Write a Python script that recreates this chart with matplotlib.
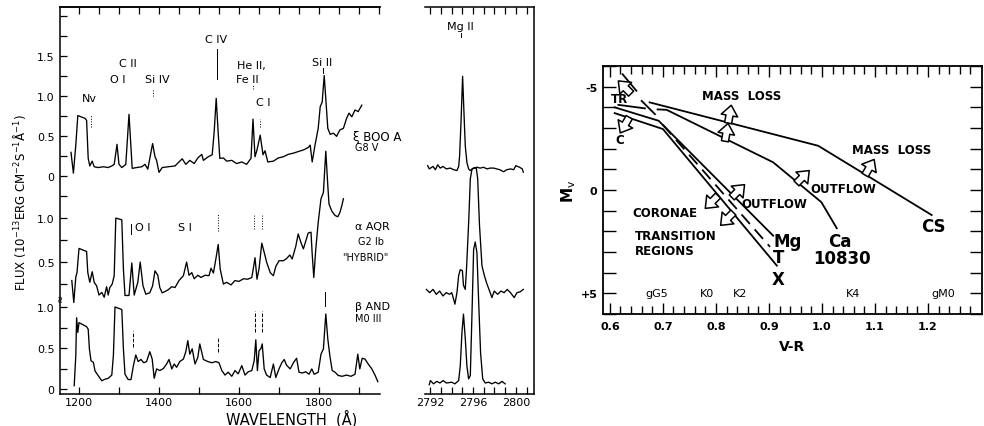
import numpy as np
import matplotlib
matplotlib.use("Agg")
import matplotlib.pyplot as plt
from matplotlib.transforms import offset_copy

plt.rcParams['font.family'] = ['DejaVu Sans']

# ---------------- UV spectra (flux in 1e-13 erg cm-2 s-1 A-1) ----------------
boo_wl = [1180, 1186, 1192, 1197, 1215, 1219, 1223, 1227, 1233, 1238,
          1248, 1261, 1273, 1282, 1288, 1295, 1300, 1307, 1317, 1325,
          1333, 1344, 1357, 1365, 1372, 1384, 1390, 1394, 1400, 1408,
          1423, 1440, 1458, 1467, 1477, 1488, 1497, 1507, 1511, 1523,
          1533, 1538, 1543, 1548, 1552, 1561, 1569, 1582, 1594, 1607,
          1619, 1630, 1635, 1640, 1645, 1653, 1660, 1665, 1672, 1686,
          1698, 1711, 1723, 1736, 1748, 1761, 1773, 1778, 1783, 1790,
          1798, 1803, 1808, 1813, 1817, 1822, 1828, 1836, 1844, 1852,
          1861, 1869, 1875, 1882, 1890, 1898, 1907]
boo_flux = [0.30, 0.04, 0.39, 0.76, 0.725, 0.70, 0.225, 0.13, 0.19, 0.12,
            0.11, 0.12, 0.11, 0.13, 0.15, 0.40, 0.15, 0.11, 0.15, 0.775,
            0.10, 0.11, 0.12, 0.15, 0.09, 0.41, 0.245, 0.20, 0.05, 0.11,
            0.12, 0.13, 0.22, 0.15, 0.20, 0.16, 0.23, 0.275, 0.20, 0.245,
            0.27, 0.56, 0.975, 0.54, 0.225, 0.23, 0.19, 0.20, 0.16, 0.18,
            0.15, 0.225, 0.715, 0.245, 0.33, 0.515, 0.27, 0.32, 0.18, 0.19,
            0.23, 0.245, 0.275, 0.29, 0.31, 0.33, 0.36, 0.39, 0.18, 0.39,
            0.60, 0.87, 0.93, 1.26, 0.97, 0.60, 0.525, 0.54, 0.50, 0.58,
            0.60, 0.725, 0.79, 0.745, 0.83, 0.81, 0.89]

aqr_wl = [1182, 1187, 1192, 1195, 1200, 1219, 1222, 1227, 1233, 1238,
          1244, 1250, 1257, 1263, 1269, 1273, 1277, 1283, 1288, 1292,
          1307, 1311, 1315, 1325, 1332, 1338, 1347, 1353, 1360, 1367,
          1377, 1384, 1390, 1397, 1402, 1408, 1415, 1423, 1432, 1440,
          1450, 1461, 1469, 1475, 1482, 1488, 1497, 1505, 1515, 1525,
          1530, 1536, 1542, 1548, 1553, 1561, 1569, 1580, 1590, 1600,
          1611, 1622, 1632, 1637, 1640, 1645, 1650, 1657, 1663, 1669,
          1678, 1686, 1692, 1700, 1711, 1719, 1727, 1733, 1742, 1748,
          1755, 1761, 1767, 1773, 1780, 1783, 1787, 1792, 1798, 1805,
          1811, 1817, 1822, 1825, 1832, 1840, 1847, 1852, 1857, 1861]
aqr_flux = [0.29, 0.04, 0.33, 0.38, 0.655, 0.62, 0.38, 0.27, 0.39, 0.27,
            0.23, 0.125, 0.155, 0.10, 0.22, 0.125, 0.21, 0.25, 0.345, 1.00,
            0.98, 0.42, 0.12, 0.12, 0.49, 0.125, 0.27, 0.50, 0.23, 0.135,
            0.15, 0.23, 0.40, 0.35, 0.21, 0.15, 0.165, 0.185, 0.22, 0.21,
            0.29, 0.345, 0.50, 0.35, 0.38, 0.31, 0.35, 0.325, 0.35, 0.345,
            0.43, 0.375, 0.53, 0.70, 0.42, 0.25, 0.27, 0.24, 0.29, 0.28,
            0.31, 0.305, 0.325, 0.46, 0.55, 0.305, 0.42, 0.715, 0.61, 0.50,
            0.38, 0.345, 0.45, 0.515, 0.515, 0.54, 0.58, 0.535, 0.68, 0.82,
            0.72, 0.65, 0.74, 0.83, 0.84, 0.59, 0.325, 0.65, 0.95, 1.22,
            1.29, 1.76, 1.37, 1.16, 1.08, 1.03, 1.015, 1.06, 1.14, 1.22]

and_wl = [1188, 1192, 1194, 1197, 1200, 1219, 1223, 1226, 1230, 1236,
          1240, 1247, 1257, 1265, 1273, 1282, 1286, 1290, 1307, 1311,
          1315, 1323, 1330, 1336, 1342, 1348, 1355, 1362, 1369, 1377,
          1383, 1388, 1394, 1402, 1411, 1419, 1425, 1432, 1438, 1444,
          1452, 1461, 1467, 1472, 1477, 1483, 1490, 1497, 1502, 1511,
          1522, 1532, 1542, 1550, 1557, 1565, 1573, 1582, 1590, 1598,
          1607, 1615, 1623, 1632, 1638, 1642, 1646, 1650, 1655, 1658,
          1663, 1669, 1678, 1686, 1692, 1700, 1707, 1713, 1719, 1728,
          1736, 1744, 1750, 1758, 1767, 1775, 1782, 1788, 1798, 1805,
          1811, 1817, 1822, 1827, 1833, 1840, 1848, 1858, 1869, 1880,
          1890, 1897, 1902, 1908, 1915, 1923, 1932, 1940, 1947]
and_flux = [0.04, 0.41, 0.87, 0.69, 0.81, 0.76, 0.73, 0.49, 0.345, 0.325,
            0.22, 0.17, 0.10, 0.12, 0.13, 0.17, 0.41, 1.00, 0.97, 0.49,
            0.18, 0.115, 0.115, 0.285, 0.415, 0.335, 0.36, 0.32, 0.335, 0.455,
            0.365, 0.13, 0.245, 0.225, 0.25, 0.305, 0.36, 0.245, 0.305, 0.265,
            0.335, 0.365, 0.455, 0.59, 0.425, 0.49, 0.305, 0.385, 0.55, 0.36,
            0.335, 0.32, 0.335, 0.32, 0.225, 0.17, 0.205, 0.155, 0.225, 0.185,
            0.285, 0.17, 0.21, 0.225, 0.345, 0.60, 0.225, 0.465, 0.495, 0.55,
            0.245, 0.17, 0.14, 0.305, 0.14, 0.245, 0.32, 0.36, 0.29, 0.245,
            0.32, 0.375, 0.205, 0.195, 0.21, 0.18, 0.245, 0.18, 0.205, 0.425,
            0.49, 0.915, 0.61, 0.41, 0.225, 0.205, 0.165, 0.155, 0.17, 0.155,
            0.18, 0.425, 0.245, 0.375, 0.365, 0.305, 0.245, 0.17, 0.09]

# ---------------- Mg II k line ----------------
mgt_wl = [2791.75, 2791.9, 2792.25, 2792.47, 2792.69, 2792.93, 2793.18, 2793.49, 2793.87, 2794.18,
          2794.49, 2794.65, 2794.74, 2794.87, 2795.02, 2795.18, 2795.27, 2795.42, 2795.58, 2795.74,
          2796.05, 2796.36, 2796.67, 2796.98, 2797.3, 2797.6, 2797.92, 2798.2, 2798.5, 2798.85,
          2799.16, 2799.5, 2799.8, 2800.0, 2800.35, 2800.6, 2800.7]
mgt_flux = [0.03, -0.01, 0.02, -0.02, 0.04, 0.0, 0.02, -0.01, 0.0, -0.02,
            -0.03, 0.02, 0.15, 0.56, 1.12, 0.56, 0.27, 0.07, -0.01, -0.03,
            0.0, 0.01, 0.0, 0.01, -0.01, 0.0, 0.0, -0.01, -0.02, -0.045,
            -0.02, -0.01, -0.02, 0.03, 0.01, -0.01, -0.05]
mgm_wl = [2791.63, 2791.94, 2792.25, 2792.56, 2792.87, 2793.18, 2793.49, 2793.8, 2794.0, 2794.18,
          2794.3, 2794.49, 2794.65, 2794.8, 2795.0, 2795.1, 2795.27, 2795.4, 2795.6, 2795.74,
          2795.9, 2796.05, 2796.3, 2796.43, 2796.6, 2796.83, 2797.05, 2797.3, 2797.6, 2797.76,
          2797.98, 2798.3, 2798.6, 2798.9, 2799.2, 2799.5, 2799.85, 2800.1, 2800.4, 2800.7]
mgm_flux = [0.02, -0.02, 0.02, -0.04, 0.0, -0.06, -0.02, -0.04, -0.02, -0.10,
            -0.16, -0.02, 0.19, 0.26, 0.25, 0.07, 0.02, 0.31, 0.88, 1.37,
            1.49, 1.50, 1.50, 1.37, 0.80, 0.31, 0.19, 0.085, -0.02, -0.08,
            0.0, -0.04, 0.0, -0.02, 0.02, -0.02, -0.08, -0.02, -0.01, 0.02]
mgb_wl = [2791.9, 2792.0, 2792.3, 2792.6, 2792.9, 2793.2, 2793.5, 2794.0, 2794.3, 2794.65,
          2794.8, 2794.96, 2795.1, 2795.27, 2795.42, 2795.58, 2795.74, 2795.9, 2796.05, 2796.2,
          2796.36, 2796.5, 2796.7, 2796.9, 2797.14, 2797.45, 2797.76, 2798.07, 2798.4, 2798.7,
          2799.0]
mgb_flux = [-0.02, 0.03, -0.01, 0.02, 0.0, 0.03, 0.0, 0.01, -0.01, 0.03,
            0.21, 0.62, 0.84, 0.54, 0.21, 0.05, 0.09, 0.86, 1.63, 1.72,
            1.59, 1.07, 0.37, 0.05, 0.0, 0.01, -0.01, 0.01, -0.01, 0.02,
            -0.01]

# ---------------- dividing lines in the (V-R, Mv) diagram ----------------
cs_vr = [0.675, 0.993, 1.207]
cs_mv = [-4.24, -2.14, 1.21]
ca_vr = [0.690, 0.707, 0.908, 0.999, 1.028]
ca_mv = [-3.90, -3.88, -1.34, 0.59, 1.85]
mg_vr = [0.609, 0.692, 0.908]
mg_mv = [-4.00, -3.35, 2.21]
xr_vr = [0.609, 0.700, 0.915]
xr_mv = [-3.72, -2.95, 3.66]
t_vr = [0.700, 0.902]
t_mv = [-3.15, 2.75]
tr_vr = [0.616, 0.666]
tr_mv = [-4.12, -3.95]
slash_vr = [[0.624, 0.650], [0.660, 0.685]]
slash_mv = [[-5.60, -4.80], [-4.31, -3.67]]

arrow_vr = [0.826, 0.820, 1.090, 0.964, 0.842, 0.792, 0.821, 0.628, 0.628]
arrow_mv = [-3.67, -2.79, -1.10, -0.63, 0.05, 0.58, 1.40, -4.97, -3.14]
arrow_dir = [80, 80, 60, 45, 45, 225, 225, 135, 240]

sptype_names = ['gG5', 'K0', 'K2', 'K4', 'gM0']
sptype_vr = [0.689, 0.783, 0.845, 1.058, 1.228]

# ---------------- figure ----------------
fig = plt.figure(figsize=(9.84, 4.27), dpi=100)
W, H = 984.0, 427.0

def box(x0, y0, x1, y1):
    return [x0 / W, 1 - y1 / H, (x1 - x0) / W, (y1 - y0) / H]

ax1 = fig.add_axes(box(60, 8, 380, 395))
ax2 = fig.add_axes(box(425, 8, 534, 395))
ax3 = fig.add_axes(box(603, 67, 982, 315))

lw_spec = 0.95
ylo, yhi = -0.061, 4.66

# stacking: offset and gain for each spectrum (top, middle, bottom)
off = {'boo': 2.594, 'aqr': 1.012, 'and': 0.0}
gain = {'boo': 0.976, 'aqr': 1.073, 'and': 1.0}

ax1.plot(boo_wl, off['boo'] + gain['boo'] * np.array(boo_flux), color='black', lw=lw_spec)
ax1.plot(aqr_wl, off['aqr'] + gain['aqr'] * np.array(aqr_flux), color='black', lw=lw_spec)
ax1.plot(and_wl, np.array(and_flux), color='black', lw=lw_spec)
ax1.set_xlim(1152.5, 1952.5)
ax1.set_ylim(ylo, yhi)
ax1.spines['right'].set_visible(False)
for s in ax1.spines.values():
    s.set_linewidth(1.1)

yt, yl = [], []
for key, vals, labs in [('boo', np.arange(0, 2.01, 0.25), {0: '0', 0.5: '0.5', 1.0: '1.0', 1.5: '1.5'}),
                        ('aqr', np.arange(0.25, 1.26, 0.25), {0.5: '0.5', 1.0: '1.0'}),
                        ('and', np.arange(0, 1.01, 0.25), {0: '0', 0.5: '0.5', 1.0: '1.0'})]:
    for v in vals:
        yt.append(off[key] + gain[key] * v)
        yl.append(labs.get(round(v, 2), ''))
ax1.set_yticks(yt)
ax1.set_yticklabels(yl, fontsize=8)
ax1.set_xticks(np.arange(1200, 1901, 100))
ax1.set_xticklabels(['1200', '', '1400', '', '1600', '', '1800', ''], fontsize=8)
ax1.tick_params(axis='y', direction='in', length=5, width=0.9, pad=4)
ax1.tick_params(axis='x', direction='in', length=5, width=0.9, pad=2)
sec = ax1.secondary_xaxis('top')
sec.set_xticks(np.arange(1200, 1951, 50))
sec.set_xticklabels([])
sec.tick_params(direction='in', length=5, width=0.9)
sec.spines['top'].set_linewidth(1.1)
ax1.text(0, 1.12, '\u2248', transform=ax1.get_yaxis_transform(), fontsize=7,
         ha='center', va='center', rotation=90)

# line identification marks
def mark(ax, x, y0, y1, ls=':'):
    ax.plot([x, x], [y0, y1], color='black', lw=0.7, ls=ls)

mark(ax1, 1230, 3.20, 3.35)
mark(ax1, 1385, 3.57, 3.66)
mark(ax1, 1545, 3.78, 4.15, '-')
mark(ax1, 1635, 3.66, 3.71)
mark(ax1, 1652, 3.20, 3.29)
mark(ax1, 1810, 3.86, 3.91, '-')
mark(ax1, 1330, 1.89, 2.01, '-')
mark(ax1, 1548, 1.93, 2.13)
mark(ax1, 1638, 1.95, 2.13)
mark(ax1, 1657, 1.95, 2.13)
mark(ax1, 1335, 0.51, 0.71, '--')
mark(ax1, 1548, 0.45, 0.63, '--')
mark(ax1, 1640, 0.70, 0.95, '--')
mark(ax1, 1657, 0.70, 0.95, '--')
mark(ax1, 1815, 1.01, 1.18, '-')

fs_id = 8
for txt, x, y in [('Nv', 1227, 3.55), ('O I', 1297, 3.78), ('C II', 1322, 3.98),
                  ('Si IV', 1395, 3.78), ('C IV', 1542, 4.27), ('He II,', 1630, 3.95),
                  ('Fe II', 1620, 3.78), ('C I', 1660, 3.50), ('Si II', 1808, 3.99),
                  ('O I', 1360, 1.98), ('S I', 1465, 1.98)]:
    ax1.text(x, y, txt, fontsize=fs_id, ha='center', va='center')

ax1.text(1885, 3.08, '\u03be BOO A', fontsize=8.5, ha='left', va='center')
ax1.text(1890, 2.95, 'G8 V', fontsize=7, ha='left', va='center')
ax1.text(1890, 1.99, '\u03b1 AQR', fontsize=8, ha='left', va='center')
ax1.text(1897, 1.80, 'G2 Ib', fontsize=7, ha='left', va='center')
ax1.text(1857, 1.61, '"HYBRID"', fontsize=7, ha='left', va='center')
ax1.text(1890, 1.01, '\u03b2 AND', fontsize=8, ha='left', va='center')
ax1.text(1890, 0.87, 'M0 III', fontsize=7, ha='left', va='center')

# Mg II panel
mg_off = [2.695, 1.195, 0.073]
ax2.plot(mgt_wl, mg_off[0] + np.array(mgt_flux), color='black', lw=lw_spec)
ax2.plot(mgm_wl, mg_off[1] + np.array(mgm_flux), color='black', lw=lw_spec)
ax2.plot(mgb_wl, mg_off[2] + np.array(mgb_flux), color='black', lw=lw_spec)
ax2.set_xlim(2791.5, 2801.7)
ax2.set_ylim(ylo, yhi)
ax2.spines['left'].set_visible(False)
for s in ax2.spines.values():
    s.set_linewidth(1.1)
ax2.set_xticks(np.arange(2792, 2802, 1))
ax2.set_xticklabels(['2792', '', '', '', '2796', '', '', '', '2800', ''], fontsize=8)
ax2.set_yticks([])
ax2.tick_params(direction='in', length=5, width=0.9, top=True, pad=2)
ax2.text(2794.8, 4.43, 'Mg II', fontsize=8, ha='center', va='center')
mark(ax2, 2794.9, 4.30, 4.34, '-')

fig.text(20 / W, 1 - 203 / H, r'FLUX (10$^{-13}$ERG CM$^{-2}$S$^{-1}$Å$^{-1}$)',
         rotation=90, ha='center', va='center', fontsize=8.5)
fig.text(292 / W, 1 - 419 / H, 'WAVELENGTH  (Å)', ha='center', va='center', fontsize=10.5)

# ---------------- right panel ----------------
lw_div = 1.3
ax3.plot(cs_vr, cs_mv, color='black', lw=lw_div)
ax3.plot(ca_vr, ca_mv, color='black', lw=lw_div)
ax3.plot(mg_vr, mg_mv, color='black', lw=lw_div)
ax3.plot(xr_vr, xr_mv, color='black', lw=lw_div)
ax3.plot(t_vr, t_mv, color='black', lw=lw_div, ls=(0, (7, 4)))
ax3.plot(tr_vr, tr_mv, color='black', lw=lw_div)
for vx, vy in zip(slash_vr, slash_mv):
    ax3.plot(vx, vy, color='black', lw=lw_div)

L = 13.0
for x, y, a in zip(arrow_vr, arrow_mv, arrow_dir):
    c, s = np.cos(np.radians(a)), np.sin(np.radians(a))
    tip = offset_copy(ax3.transData, fig=fig, x=L / 2 * c, y=L / 2 * s, units='points')
    ax3.annotate('', xy=(x, y), xycoords=tip, xytext=(-L * c, -L * s),
                 textcoords='offset points', annotation_clip=False,
                 arrowprops=dict(arrowstyle='simple,head_length=0.5,head_width=0.8,tail_width=0.34',
                                 fc='white', ec='black', lw=1.1, shrinkA=0, shrinkB=0,
                                 mutation_scale=15))

ax3.set_xlim(0.587, 1.302)
ax3.set_ylim(6, -6)
for s in ax3.spines.values():
    s.set_linewidth(1.3)
ax3.set_xticks(np.arange(0.6, 1.21, 0.1))
ax3.set_xticklabels(['0.6', '0.7', '0.8', '0.9', '1.0', '1.1', '1.2'], fontsize=8, fontweight='bold')
ax3.set_xticks(np.arange(0.6, 1.30, 0.02), minor=True)
ax3.set_yticks(np.arange(-6, 7, 1))
ax3.set_yticklabels(['-5' if v == -5 else '0' if v == 0 else '+5' if v == 5 else ''
                     for v in range(-6, 7)], fontsize=8, fontweight='bold')
ax3.tick_params(axis='x', which='both', direction='in', top=True, bottom=True, width=1.0)
ax3.tick_params(axis='x', which='major', length=8, pad=5)
ax3.tick_params(axis='x', which='minor', length=6)
ax3.tick_params(axis='y', direction='in', left=True, right=True, length=9, width=1.0, pad=4)
ax3.set_xlabel('V-R', fontsize=10, fontweight='bold', labelpad=6)
ax3.set_ylabel(r'M$_{\rm v}$', fontsize=11, fontweight='bold', labelpad=2)

tf = dict(fontsize=8.5, fontweight='bold', va='center')
ax3.text(0.848, -4.56, 'MASS  LOSS', ha='center', **tf)
ax3.text(1.131, -1.98, 'MASS  LOSS', ha='center', **tf)
ax3.text(1.040, -0.05, 'OUTFLOW', ha='center', **tf)
ax3.text(0.911, 0.63, 'OUTFLOW', ha='center', **tf)
ax3.text(0.643, 1.11, 'CORONAE', ha='left', **tf)
ax3.text(0.647, 2.21, 'TRANSITION', ha='left', **tf)
ax3.text(0.647, 2.93, 'REGIONS', ha='left', **tf)
ax3.text(0.619, -4.43, 'TR', ha='center', **tf)
ax3.text(0.618, -2.46, 'C', ha='center', **tf)
for name, v in zip(sptype_names, sptype_vr):
    ax3.text(v, 5.0, name, ha='center', fontsize=8, va='center')

bf = dict(fontsize=12, fontweight='bold', va='center', ha='center')
ax3.text(0.935, 2.45, 'Mg', **bf)
ax3.text(0.918, 3.25, 'T', **bf)
ax3.text(0.918, 4.30, 'X', **bf)
ax3.text(1.034, 2.45, 'Ca', **bf)
ax3.text(1.037, 3.30, '10830', **bf)
ax3.text(1.210, 1.72, 'CS', **bf)

fig.savefig('out.png', dpi=100, facecolor='white')
